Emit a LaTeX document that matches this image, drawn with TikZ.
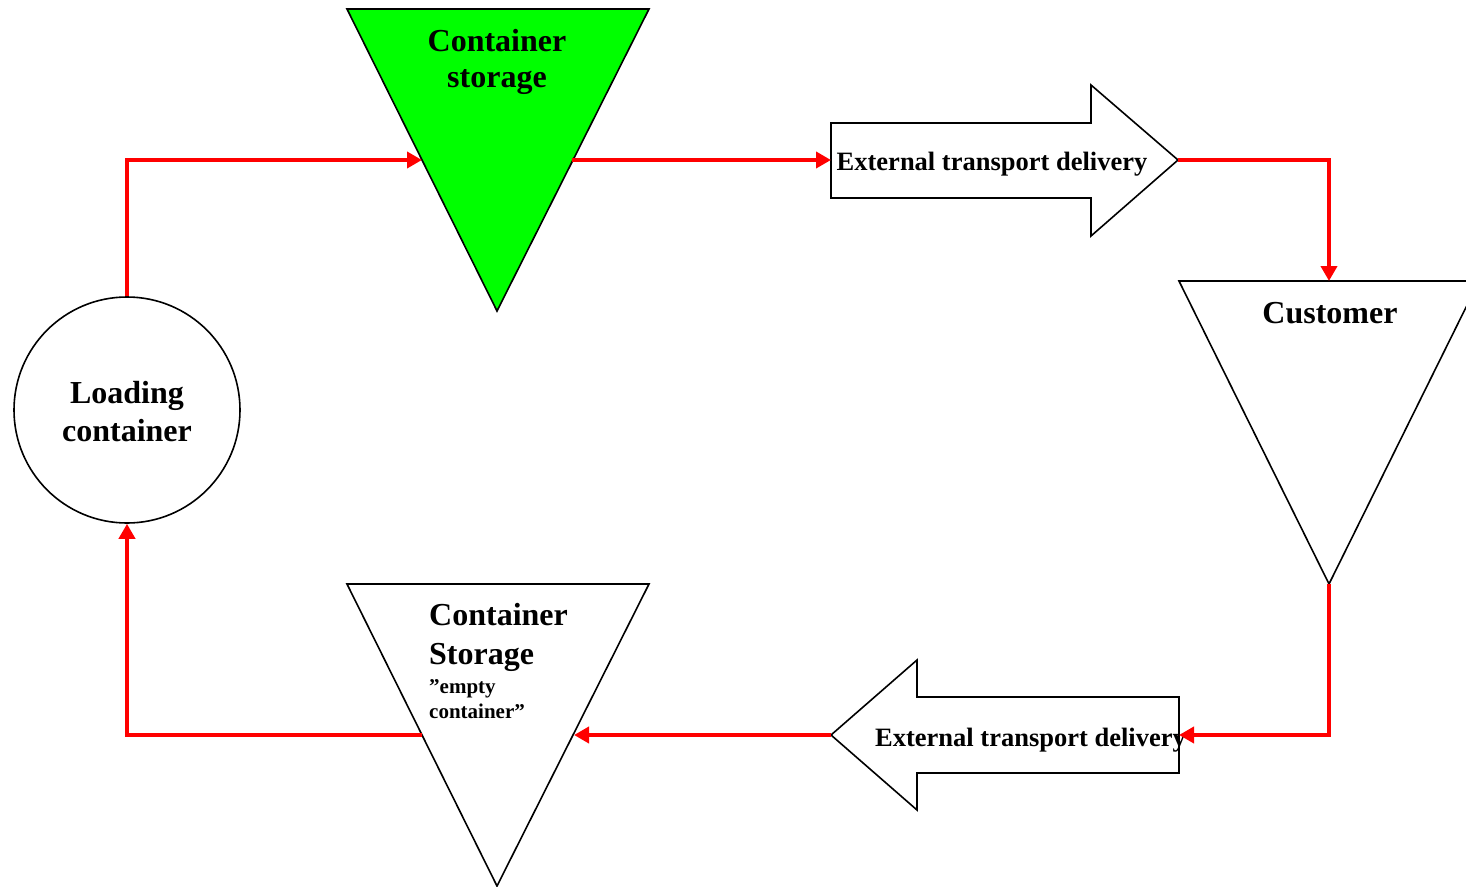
\documentclass[tikz,border=0pt]{standalone}
\usepackage{fontspec}
\setmainfont{Liberation Serif}
\usetikzlibrary{arrows.meta}
\begin{document}
\begin{tikzpicture}[x=1pt,y=-1pt,
  shapeline/.style={draw=black,line width=1.6pt,line join=miter},
  flow/.style={draw=red,line width=4pt,-{Triangle[length=15pt,width=16pt]}},
  bigtxt/.style={font=\fontsize{32}{38}\selectfont\bfseries,inner sep=0pt,anchor=base},
  midtxt/.style={font=\fontsize{26.5}{30}\selectfont\bfseries,inner sep=0pt,anchor=base},
  smalltxt/.style={font=\fontsize{21}{25}\selectfont\bfseries,inner sep=0pt,anchor=base west}]
\useasboundingbox (0,0) rectangle (1466,886);
\clip (0,0) rectangle (1466,886);
% shapes
\draw[shapeline,fill={rgb,255:red,0;green,255;blue,0}] (347,9) -- (649,9) -- (497,311) -- cycle;
\draw[shapeline] (347,584) -- (649,584) -- (497,886) -- cycle;
\draw[shapeline] (1179,281) -- (1479,281) -- (1329,584) -- cycle;
\node[shapeline,circle,minimum size=226pt,inner sep=0pt] (load) at (127,410) {};
\draw[shapeline] (831,123) -- (1091,123) -- (1091,85) -- (1178,160) -- (1091,236) -- (1091,198) -- (831,198) -- cycle;
\draw[shapeline] (1179,697) -- (917,697) -- (917,660) -- (831,735) -- (917,810) -- (917,773) -- (1179,773) -- cycle;
% coordinates
\coordinate (gsL) at (422,160);
\coordinate (gsR) at (572,160);
\coordinate (e1L) at (831,160);
\coordinate (e1R) at (1178,160);
\coordinate (cuT) at (1329,281);
\coordinate (cuB) at (1329,584);
\coordinate (e2R) at (1179,735);
\coordinate (e2L) at (831,735);
\coordinate (esR) at (574,735);
\coordinate (esL) at (422,735);
% text
\node[bigtxt] (t1) at (497,51) {Container};
\node[bigtxt] (t2) at (497,87) {storage};
\node[midtxt] (t3) at (992,170) {External transport delivery};
\node[bigtxt] (t4) at (1330,323) {Customer};
\node[bigtxt] (t5) at (127,403) {Loading};
\node[bigtxt] (t6) at (127,441) {container};
\node[bigtxt,anchor=base west] (t7) at (429,625) {Container};
\node[bigtxt,anchor=base west] (t8) at (429,664) {Storage};
\node[smalltxt] (t9) at (429,693) {”empty};
\node[smalltxt] (t10) at (429,718) {container”};
\node[midtxt,anchor=base west] (t11) at (875,746) {External transport delivery};
% connectors
\draw[flow] (load.north) |- (gsL);
\draw[flow] (gsR) -- (e1L);
\draw[flow] (e1R) -| (cuT);
\draw[flow] (cuB) |- (e2R);
\draw[flow] (e2L) -- (esR);
\draw[flow] (esL) -| (load.south);
\end{tikzpicture}
\end{document}
